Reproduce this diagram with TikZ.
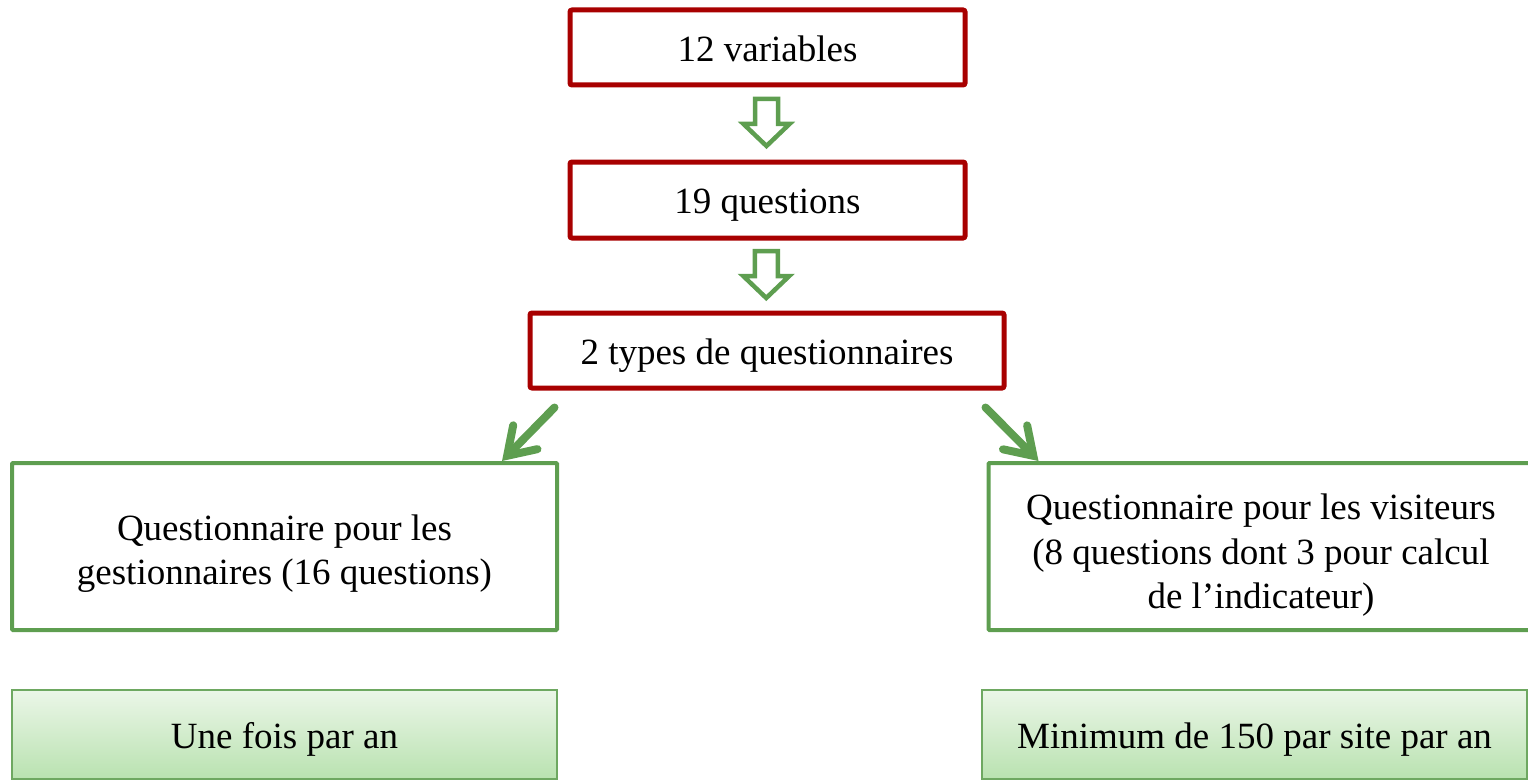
\documentclass[tikz,border=0pt]{standalone}
\usepackage{fontspec}
\setmainfont{Liberation Serif}
\usetikzlibrary{arrows.meta,calc}
\definecolor{boxred}{HTML}{A80000}
\definecolor{boxgreen}{HTML}{5E9E50}
\definecolor{gtop}{HTML}{EBF6E8}
\definecolor{gbot}{HTML}{B9E2B0}
\tikzset{
  txt/.style={inner sep=0pt, align=center, font=\fontsize{37}{44.5}\selectfont},
  redbox/.style={draw=boxred, line width=5pt, rounded corners=2pt, minimum width=#1, inner sep=0pt},
  greenbox/.style={draw=boxgreen, line width=4pt, rounded corners=1pt, minimum width=545pt, minimum height=167pt, inner sep=0pt},
  fillbox/.style={draw=boxgreen!90, line width=2pt, top color=gtop, bottom color=gbot, minimum width=545pt, minimum height=89pt, inner sep=0pt},
  hollow/.style={draw=boxgreen, line width=4.5pt, line join=miter, fill=white},
  diag/.style={draw=boxgreen, line width=8pt, line cap=round, -{Straight Barb[length=26pt, width=34pt, line cap=round]}},
  pics/downarrow/.style={code={
    \draw[hollow] (-11.5,-24.5) -- (11.5,-24.5) -- (11.5,0.5) -- (23,0.5) -- (0,22.5) -- (-23,0.5) -- (-11.5,0.5) -- cycle;
  }}
}
\begin{document}
\begin{tikzpicture}[x=1pt,y=-1pt]
\useasboundingbox (0,0) rectangle (1528,781);
\node[redbox=395pt, minimum height=75pt] (b1) at (767.5,47.5) {};
\node[redbox=395pt, minimum height=76pt] (b2) at (767.5,200) {};
\node[redbox=474pt, minimum height=75pt] (b3) at (767,350.5) {};
\node[greenbox] (b4) at (284.5,546.5) {};
\node[greenbox] (b5) at (1261,546.5) {};
\node[fillbox] (b6) at (284.5,734.5) {};
\node[fillbox] (b7) at (1254.5,734.5) {};
\node[txt, anchor=base] (t1) at ([yshift=-14pt]b1.center) {12 variables};
\node[txt, anchor=base] (t2) at ([yshift=-13.5pt]b2.center) {19 questions};
\node[txt, anchor=base] (t3) at ([yshift=-14pt]b3.center) {2 types de questionnaires};
\node[txt] (t4) at ([yshift=-7pt]b4.center) {Questionnaire pour les\\gestionnaires (16 questions)};
\node[txt] (t5) at ([yshift=-9pt]b5.center) {Questionnaire pour les visiteurs\\(8 questions dont 3 pour calcul\\de l’indicateur)};
\node[txt, anchor=base] (t6) at ([yshift=-14pt]b6.center) {Une fois par an};
\node[txt, anchor=base] (t7) at ([yshift=-14pt]b7.center) {Minimum de 150 par site par an};
\pic at ([xshift=-1pt]$(b1.south)!0.5!(b2.north)$) {downarrow};
\pic at ([xshift=-1pt]$(b2.south)!0.5!(b3.north)$) {downarrow};
\draw[diag] ([shift={(27pt,-17pt)}]b3.south west) -- ([xshift=-57pt]b4.north east);
\draw[diag] ([shift={(-21pt,-17pt)}]b3.south east) -- ([xshift=52pt]b5.north west);
\end{tikzpicture}
\end{document}
